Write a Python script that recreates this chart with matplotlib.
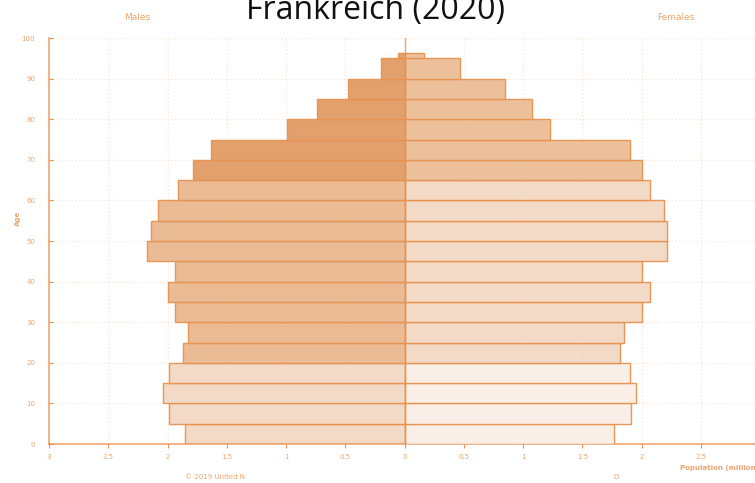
import numpy as np
import matplotlib
matplotlib.use("Agg")
import matplotlib.pyplot as plt

# 5-year age groups (lower bound), population in millions
age_groups = [0, 5, 10, 15, 20, 25, 30, 35, 40, 45, 50, 55, 60, 65, 70, 75, 80, 85, 90, 95]
males = [1.85, 1.99, 2.04, 1.99, 1.87, 1.83, 1.94, 2.00, 1.94, 2.17,
         2.14, 2.08, 1.91, 1.79, 1.63, 0.99, 0.74, 0.48, 0.20, 0.06]
females = [1.77, 1.91, 1.95, 1.90, 1.82, 1.85, 2.00, 2.07, 2.00, 2.21,
           2.21, 2.19, 2.07, 2.00, 1.90, 1.23, 1.07, 0.85, 0.47, 0.16]
x_ticks = [-3, -2.5, -2, -1.5, -1, -0.5, 0, 0.5, 1, 1.5, 2, 2.5]
x_tick_labels = ["3", "2.5", "2", "1.5", "1", "0.5", "0", "0.5", "1", "1.5", "2", "2.5"]

orange = "#e8924f"
label_col = "#eea46c"

ages = np.array(age_groups, dtype=float)
heights = np.full(len(ages), 5.0)
heights[-1] = 1.3  # top group is shown cut short in the source chart

def band_colors(light, mid, dark):
    return [light if a < 20 else (mid if a < 65 else dark) for a in ages]

male_cols = band_colors("#f3d8c3", "#eab88f", "#e19b64")
female_cols = band_colors("#faefe6", "#f3d8c3", "#ebbd96")

fig = plt.figure(figsize=(7.55, 4.83), dpi=100)
ax = fig.add_axes([0.065, 0.0807, 0.942, 0.8406])

ax.barh(ages, -np.array(males), height=heights, align="edge", color=male_cols,
        edgecolor=orange, linewidth=1.0, alpha=0.95, zorder=2)
ax.barh(ages, females, height=heights, align="edge", color=female_cols,
        edgecolor=orange, linewidth=1.0, alpha=0.95, zorder=3)
ax.axvline(0, color=orange, linewidth=1.0, alpha=0.8, zorder=4)

ax.set_xlim(-3, 3)
ax.set_ylim(0, 100)
ax.set_xticks(x_ticks)
ax.set_xticklabels(x_tick_labels)
ax.set_yticks(range(0, 101, 10))
ax.tick_params(axis="x", direction="out", length=3, width=0.8, colors=orange,
               labelsize=5, labelcolor=label_col, pad=4)
ax.tick_params(axis="y", direction="in", length=3, width=0.8, colors=orange,
               labelsize=5, labelcolor=label_col, pad=10)
ax.grid(True, linestyle=":", color="#fbe6d6", linewidth=1.0, zorder=0)
ax.set_axisbelow(True)

for side in ["top", "right"]:
    ax.spines[side].set_visible(False)
for side in ["left", "bottom"]:
    ax.spines[side].set_color(orange)
    ax.spines[side].set_linewidth(1.2)
    ax.spines[side].set_alpha(0.8)

fig.text(18 / 755, 1 - 218 / 483, "Age", rotation=90, ha="center", va="center",
         fontsize=5, fontweight="bold", color=label_col)
fig.text(137 / 755, 1 - 18 / 483, "Males", ha="center", va="center",
         fontsize=6.5, color=label_col)
fig.text(676 / 755, 1 - 18 / 483, "Females", ha="center", va="center",
         fontsize=6.5, color=label_col)
fig.text(680 / 755, 1 - 468 / 483, "Population (millions)", ha="left", va="center",
         fontsize=5, fontweight="bold", color=label_col)
fig.text(215 / 755, 1 - 477 / 483, "© 2019 United N", ha="center", va="center",
         fontsize=5, color=label_col)
fig.text(617 / 755, 1 - 477 / 483, "D.", ha="center", va="center",
         fontsize=5, color=label_col)
fig.text(375 / 755, 1 - 19 / 483, "Frankreich (2020)", ha="center", va="baseline",
         fontsize=23, family="Open Sans", color="#111111")

fig.savefig("out.png", dpi=100)
